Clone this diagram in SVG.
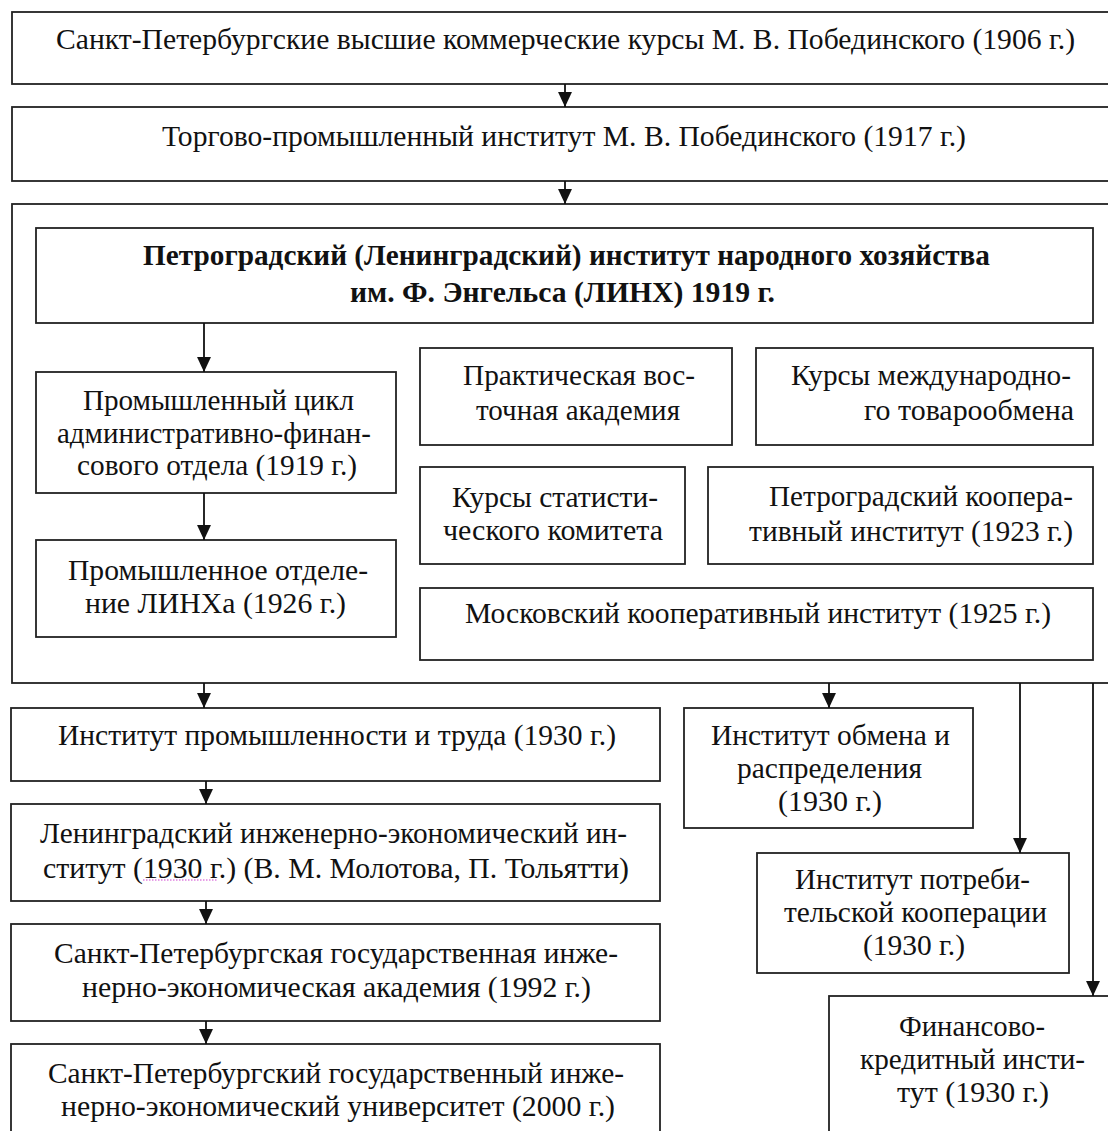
<svg xmlns="http://www.w3.org/2000/svg" width="1108" height="1131" viewBox="0 0 1108 1131">
<style>
rect{fill:#fff;stroke:#222;stroke-width:1.8}
.t{font-family:"Liberation Serif","Times New Roman",serif;font-size:29px;fill:#111}
.b{font-weight:bold}
.c line{stroke:#111;stroke-width:1.8}
</style>
<defs>
<marker id="ah" markerUnits="userSpaceOnUse" markerWidth="15" markerHeight="14" refX="14" refY="6.5" orient="auto" viewBox="0 0 14 13">
<path d="M0,0 L14,6.5 L0,13 Z" fill="#111"/>
</marker>
</defs>
<rect width="1108" height="1131" style="fill:#fff;stroke:none"/>
<g id="n1"><rect x="12" y="12" width="1110" height="72"/>
<text class="t" x="56" y="49" textLength="1019" lengthAdjust="spacingAndGlyphs">Санкт-Петербургские высшие коммерческие курсы М. В. Побединского (1906 г.)</text></g>
<g id="n2"><rect x="12" y="107" width="1110" height="74"/>
<text class="t" x="162" y="146" textLength="804" lengthAdjust="spacingAndGlyphs">Торгово-промышленный институт М. В. Побединского (1917 г.)</text></g>
<g id="container"><rect x="12" y="204" width="1110" height="479"/></g>
<g id="linh"><rect x="36" y="228" width="1057" height="95"/>
<text class="t b" x="143" y="265" textLength="847" lengthAdjust="spacingAndGlyphs">Петроградский (Ленинградский) институт народного хозяйства</text>
<text class="t b" x="350" y="302" textLength="425" lengthAdjust="spacingAndGlyphs">им. Ф. Энгельса (ЛИНХ) 1919 г.</text></g>
<g id="pc"><rect x="36" y="372" width="360" height="121"/>
<text class="t" x="83" y="410" textLength="271" lengthAdjust="spacingAndGlyphs">Промышленный цикл</text>
<text class="t" x="57" y="443" textLength="314" lengthAdjust="spacingAndGlyphs">административно-финан-</text>
<text class="t" x="77" y="475" textLength="280" lengthAdjust="spacingAndGlyphs">сового отдела (1919 г.)</text></g>
<g id="po"><rect x="36" y="540" width="360" height="97"/>
<text class="t" x="68" y="580" textLength="300" lengthAdjust="spacingAndGlyphs">Промышленное отделе-</text>
<text class="t" x="85" y="613" textLength="261" lengthAdjust="spacingAndGlyphs">ние ЛИНХа (1926 г.)</text></g>
<g id="pva"><rect x="420" y="348" width="312" height="97"/>
<text class="t" x="463" y="385" textLength="232" lengthAdjust="spacingAndGlyphs">Практическая вос-</text>
<text class="t" x="476" y="420" textLength="204" lengthAdjust="spacingAndGlyphs">точная академия</text></g>
<g id="kmt"><rect x="756" y="348" width="337" height="97"/>
<text class="t" x="791" y="385" textLength="280" lengthAdjust="spacingAndGlyphs">Курсы международно-</text>
<text class="t" x="864" y="420" textLength="210" lengthAdjust="spacingAndGlyphs">го товарообмена</text></g>
<g id="ksk"><rect x="420" y="467" width="265" height="97"/>
<text class="t" x="452" y="507" textLength="206" lengthAdjust="spacingAndGlyphs">Курсы статисти-</text>
<text class="t" x="443" y="540" textLength="220" lengthAdjust="spacingAndGlyphs">ческого комитета</text></g>
<g id="pki"><rect x="708" y="467" width="385" height="97"/>
<text class="t" x="769" y="506" textLength="304" lengthAdjust="spacingAndGlyphs">Петроградский коопера-</text>
<text class="t" x="749" y="541" textLength="324" lengthAdjust="spacingAndGlyphs">тивный институт (1923 г.)</text></g>
<g id="mki"><rect x="420" y="588" width="673" height="72"/>
<text class="t" x="465" y="623" textLength="586" lengthAdjust="spacingAndGlyphs">Московский кооперативный институт (1925 г.)</text></g>
<g id="ipt"><rect x="11" y="708" width="649" height="73"/>
<text class="t" x="58" y="745" textLength="558" lengthAdjust="spacingAndGlyphs">Институт промышленности и труда (1930 г.)</text></g>
<g id="liei"><rect x="11" y="804" width="649" height="97"/>
<text class="t" x="40" y="843" textLength="587" lengthAdjust="spacingAndGlyphs">Ленинградский инженерно-экономический ин-</text>
<text class="t" x="43" y="878" textLength="586" lengthAdjust="spacingAndGlyphs">ститут (1930 г.) (В. М. Молотова, П. Тольятти)</text>
<line x1="143" y1="880" x2="217" y2="880" stroke="#d040d0" stroke-width="1.2" stroke-dasharray="1.5 1.5"/></g>
<g id="spbgiea"><rect x="11" y="924" width="649" height="97"/>
<text class="t" x="54" y="963" textLength="564" lengthAdjust="spacingAndGlyphs">Санкт-Петербургская государственная инже-</text>
<text class="t" x="82" y="997" textLength="509" lengthAdjust="spacingAndGlyphs">нерно-экономическая академия (1992 г.)</text></g>
<g id="spbgieu"><rect x="11" y="1044" width="649" height="100"/>
<text class="t" x="48" y="1083" textLength="576" lengthAdjust="spacingAndGlyphs">Санкт-Петербургский государственный инже-</text>
<text class="t" x="61" y="1116" textLength="554" lengthAdjust="spacingAndGlyphs">нерно-экономический университет (2000 г.)</text></g>
<g id="ior"><rect x="684" y="708" width="289" height="120"/>
<text class="t" x="711" y="745" textLength="239" lengthAdjust="spacingAndGlyphs">Институт обмена и</text>
<text class="t" x="737" y="778" textLength="185" lengthAdjust="spacingAndGlyphs">распределения</text>
<text class="t" x="778" y="811" textLength="104" lengthAdjust="spacingAndGlyphs">(1930 г.)</text></g>
<g id="ipk"><rect x="757" y="853" width="312" height="120"/>
<text class="t" x="795" y="889" textLength="235" lengthAdjust="spacingAndGlyphs">Институт потреби-</text>
<text class="t" x="784" y="922" textLength="263" lengthAdjust="spacingAndGlyphs">тельской кооперации</text>
<text class="t" x="863" y="955" textLength="102" lengthAdjust="spacingAndGlyphs">(1930 г.)</text></g>
<g id="fki"><rect x="829" y="996" width="300" height="150"/>
<text class="t" x="899" y="1036" textLength="146" lengthAdjust="spacingAndGlyphs">Финансово-</text>
<text class="t" x="860" y="1069" textLength="225" lengthAdjust="spacingAndGlyphs">кредитный инсти-</text>
<text class="t" x="897" y="1102" textLength="152" lengthAdjust="spacingAndGlyphs">тут (1930 г.)</text></g>
<g id="connectors" class="c">
<line x1="565" y1="84" x2="565" y2="107" marker-end="url(#ah)"/>
<line x1="565" y1="181" x2="565" y2="204" marker-end="url(#ah)"/>
<line x1="204" y1="323" x2="204" y2="372" marker-end="url(#ah)"/>
<line x1="204" y1="493" x2="204" y2="540" marker-end="url(#ah)"/>
<line x1="204" y1="683" x2="204" y2="708" marker-end="url(#ah)"/>
<line x1="829" y1="683" x2="829" y2="708" marker-end="url(#ah)"/>
<line x1="1020" y1="683" x2="1020" y2="853" marker-end="url(#ah)"/>
<line x1="1093" y1="683" x2="1093" y2="996" marker-end="url(#ah)"/>
<line x1="206" y1="781" x2="206" y2="804" marker-end="url(#ah)"/>
<line x1="206" y1="901" x2="206" y2="924" marker-end="url(#ah)"/>
<line x1="206" y1="1021" x2="206" y2="1044" marker-end="url(#ah)"/>
</g>
</svg>
